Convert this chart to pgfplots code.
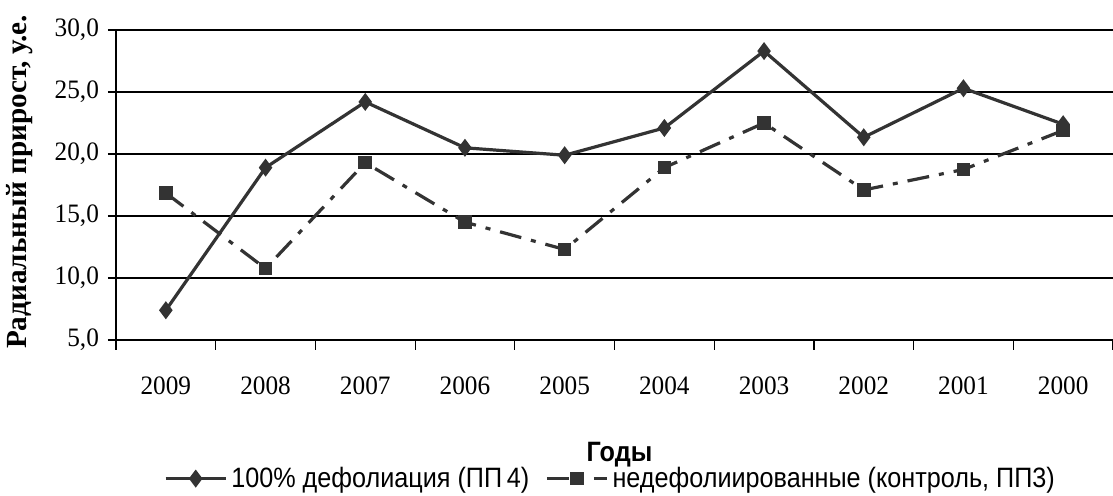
\documentclass[border=0pt]{standalone}
\usepackage{pgfplots}
\pgfplotsset{compat=1.18}
\usepackage{fontspec}
\setmainfont{Liberation Serif}
\newfontfamily\tickf[FakeStretch=0.95]{Liberation Serif}
\newfontfamily\sansf[FakeStretch=0.9]{Liberation Sans}
\definecolor{ln}{HTML}{333333}
\begin{document}
\begin{tikzpicture}
\path[use as bounding box] (-58pt,-78pt) rectangle (498.5pt,170pt);
\begin{axis}[
  scale only axis,
  width=498.5pt, height=155pt,
  xmin=-0.5, xmax=9.5,
  ymin=5, ymax=30,
  axis x line*=bottom, axis y line*=left,
  axis line style={black, line width=0.8pt, -},
  xtick={0,...,9},
  xticklabels={2009,2008,2007,2006,2005,2004,2003,2002,2001,2000},
  minor xtick={-0.5,0.5,...,9.5},
  major x tick style={draw=none},
  minor x tick style={black, line width=0.6pt},
  minor tick length=5pt,
  ytick={5,10,...,30},
  yticklabels={{5,0},{10,0},{15,0},{20,0},{25,0},{30,0}},
  major y tick style={black, line width=0.6pt},
  major tick length=4pt,
  tick align=outside,
  ymajorgrids,
  major grid style={black, line width=0.75pt},
  ticklabel style={font=\tickf\fontsize{13.3}{15}\selectfont},
  xticklabel style={yshift=-11pt},
  yticklabel style={xshift=-1pt},
  xlabel={Годы},
  xlabel style={font=\sansf\bfseries\fontsize{14}{16}\selectfont, at={(axis description cs:0.505,-0.371)}, anchor=center},
  ylabel={Радиальный прирост, у.е.},
  ylabel style={font=\bfseries\fontsize{14.6}{16}\selectfont, at={(axis description cs:-0.0963,0.51)}, anchor=center},
  legend style={at={(axis description cs:0.497,-0.447)}, anchor=center, draw=none, fill=none,
    font=\sansf\fontsize{14}{16}\selectfont, legend columns=2,
    /tikz/every even column/.append style={column sep=6pt}},
  legend image code/.code={\draw[mark repeat=2,mark phase=2,#1] plot coordinates {(0pt,0pt) (15pt,0pt) (30pt,0pt)};},
  clip=false,
]
\addplot[color=ln, line width=1.6pt, mark=diamond*, mark size=3.2pt, mark options={solid, fill=ln}]
  coordinates {(0,7.4) (1,18.9) (2,24.2) (3,20.5) (4,19.9) (5,22.1) (6,28.3) (7,21.35) (8,25.3) (9,22.4)};
\addlegendentry{100\% дефолиация (ПП\,4)}
\addplot[color=ln, line width=1.6pt, dash pattern=on 11pt off 5pt on 2.5pt off 5pt, mark=square*, mark size=2.6pt, mark options={solid, fill=ln}]
  coordinates {(0,16.85) (1,10.76) (2,19.3) (3,14.5) (4,12.3) (5,18.9) (6,22.5) (7,17.1) (8,18.75) (9,21.9)};
\addlegendentry{недефолиированные (контроль, ПП3)}
\end{axis}
\end{tikzpicture}
\end{document}
